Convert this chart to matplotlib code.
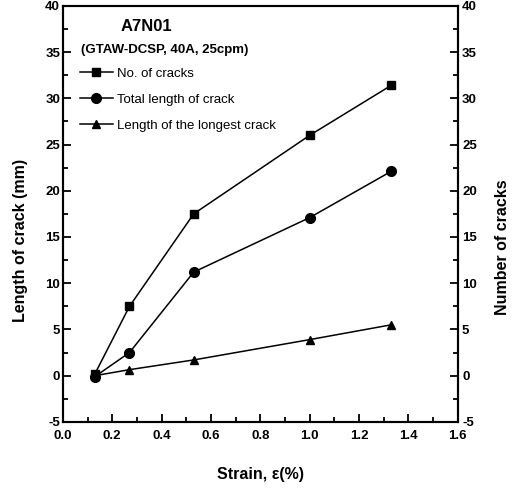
import matplotlib
matplotlib.use("Agg")
import matplotlib.pyplot as plt
from matplotlib.ticker import MultipleLocator

plt.rcParams['font.family'] = ['Liberation Sans', 'DejaVu Sans']
plt.rcParams['axes.unicode_minus'] = False

strain = [0.13, 0.27, 0.53, 1.0, 1.33]
num_cracks = [0.2, 7.5, 17.5, 26.0, 31.4]
total_length = [-0.1, 2.5, 11.2, 17.1, 22.1]
longest_length = [0.0, 0.65, 1.7, 3.9, 5.5]

fig = plt.figure(figsize=(5.15, 4.9), dpi=100)
ax = fig.add_axes([0.122, 0.139, 0.767, 0.849])
ax2 = ax.twinx()

for a in (ax, ax2):
    a.set_ylim(-5, 40)
    a.yaxis.set_major_locator(MultipleLocator(5))
    a.yaxis.set_minor_locator(MultipleLocator(2.5))
    for s in a.spines.values():
        s.set_linewidth(1.5)
ax.set_xlim(0.0, 1.6)
ax.xaxis.set_major_locator(MultipleLocator(0.2))
ax.xaxis.set_minor_locator(MultipleLocator(0.1))

ax.tick_params(which='both', direction='in', top=False, right=False, labelsize=9.5, width=1.3)
ax.tick_params(which='major', length=6)
ax.tick_params(which='minor', length=3.5)
ax.tick_params(axis='y', pad=2)
ax.tick_params(axis='x', pad=6)
ax2.tick_params(which='both', direction='in', labelsize=9.5, width=1.3, pad=3)
ax2.tick_params(which='major', length=6)
ax2.tick_params(which='minor', length=3.5)
for lbl in ax.get_xticklabels() + ax.get_yticklabels() + ax2.get_yticklabels():
    lbl.set_fontweight('bold')

l1, = ax2.plot(strain, num_cracks, '-s', color='black', lw=1.1, ms=6, label='No. of cracks')
l2, = ax.plot(strain, total_length, '-o', color='black', lw=1.1, ms=7, label='Total length of crack')
l3, = ax.plot(strain, longest_length, '-^', color='black', lw=1.1, ms=6, label='Length of the longest crack')

ax.set_xlabel('Strain, ε(%)', fontsize=11.5, fontweight='bold', labelpad=18)
ax.set_ylabel('Length of crack (mm)', fontsize=11.5, fontweight='bold')
ax.yaxis.set_label_coords(-0.088, 0.435)
ax2.set_ylabel('Number of cracks', fontsize=11.5, fontweight='bold')
ax2.yaxis.set_label_coords(1.095, 0.42)

ax.text(0.145, 0.95, 'A7N01', transform=ax.transAxes, fontsize=12, fontweight='bold', va='center')
ax.text(0.045, 0.893, '(GTAW-DCSP, 40A, 25cpm)', transform=ax.transAxes, fontsize=9.5,
        fontweight='bold', va='center')

leg = ax.legend(handles=[l1, l2, l3], loc='upper left', bbox_to_anchor=(0.03, 0.865),
                frameon=False, fontsize=9.5, labelspacing=1.05, handlelength=2.5,
                handletextpad=0.3, borderaxespad=0)

fig.savefig('out.png', dpi=100)
